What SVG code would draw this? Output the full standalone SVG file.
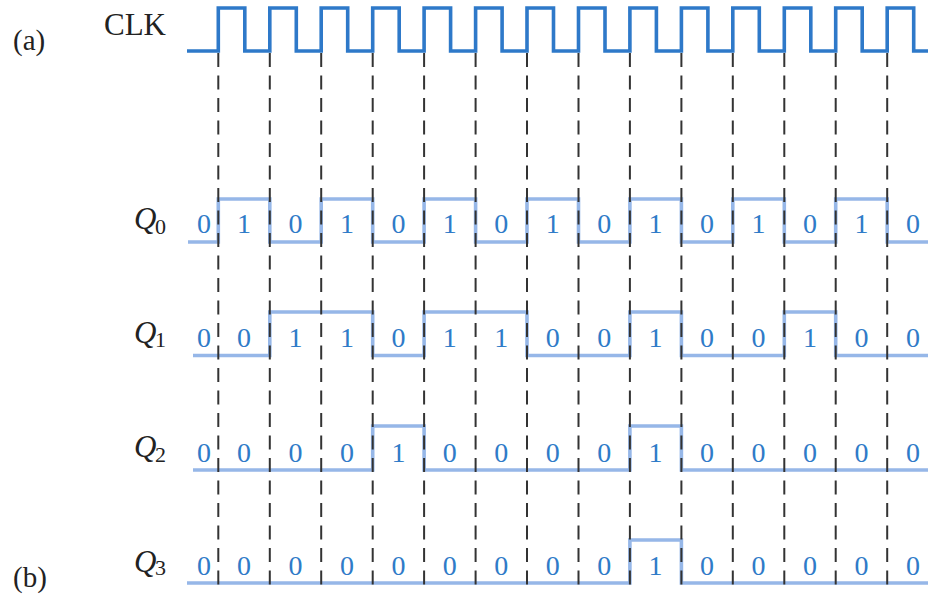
<svg xmlns="http://www.w3.org/2000/svg" width="928" height="596" viewBox="0 0 928 596">
<style>
.lbl{font-family:"Liberation Serif","Times New Roman",serif;fill:#222}
.q{font-family:"Liberation Serif","Times New Roman",serif;font-style:italic;font-size:31px;fill:#222}
.sub{font-family:"Liberation Serif","Times New Roman",serif;font-size:22px;fill:#222}
.d{font-family:"Liberation Serif","Times New Roman",serif;font-size:28px;fill:#2f7bc8;text-anchor:middle}
.clk{fill:none;stroke:#2e79c9;stroke-width:3.6;stroke-linejoin:miter}
.wave{fill:none;stroke:#96b7e8;stroke-width:3.6;stroke-linejoin:miter}
.dash{stroke:#333;stroke-width:2;stroke-dasharray:14 8.5}
</style>
<rect width="928" height="596" fill="#fff"/>
<text class="lbl" x="13" y="50" font-size="29">(a)</text>
<text class="lbl" x="13" y="587" font-size="29">(b)</text>

<g id="clk">
<text class="lbl" x="104" y="35" font-size="31">CLK</text>
<path class="clk" d="M187 51 H218.3 V8 H244.8 V51 H269.8 V8 H296.3 V51 H321.2 V8 H347.7 V51 H372.7 V8 H399.2 V51 H424.1 V8 H450.6 V51 H475.6 V8 H502.1 V51 H527 V8 H553.5 V51 H578.5 V8 H605 V51 H629.9 V8 H656.4 V51 H681.4 V8 H707.9 V51 H732.8 V8 H759.3 V51 H784.3 V8 H810.8 V51 H835.7 V8 H862.2 V51 H887.2 V8 H913.7 V51 H928"/>
</g>

<g id="q0">
<text class="q" x="134" y="229">Q</text><text class="sub" x="155" y="234">0</text>
<path class="wave" d="M188 242 H218.3 V199 H269.8 V242 H321.2 V199 H372.7 V242 H424.1 V199 H475.6 V242 H527 V199 H578.5 V242 H629.9 V199 H681.4 V242 H732.8 V199 H784.3 V242 H835.7 V199 H887.2 V242 H928"/>
<g class="d">
<text x="204" y="233">0</text><text x="244" y="233">1</text><text x="295.5" y="233">0</text><text x="346.9" y="233">1</text><text x="398.4" y="233">0</text><text x="449.8" y="233">1</text><text x="501.3" y="233">0</text><text x="552.7" y="233">1</text><text x="604.2" y="233">0</text><text x="655.6" y="233">1</text><text x="707.1" y="233">0</text><text x="758.5" y="233">1</text><text x="810" y="233">0</text><text x="861.4" y="233">1</text><text x="912.9" y="233">0</text>
</g>
</g>

<g id="q1">
<text class="q" x="134" y="343">Q</text><text class="sub" x="155" y="347">1</text>
<path class="wave" d="M193 355.5 H269.8 V312 H372.7 V355.5 H424.1 V312 H527 V355.5 H629.9 V312 H681.4 V355.5 H784.3 V312 H835.7 V355.5 H928"/>
<g class="d">
<text x="204" y="347">0</text><text x="244" y="347">0</text><text x="295.5" y="347">1</text><text x="346.9" y="347">1</text><text x="398.4" y="347">0</text><text x="449.8" y="347">1</text><text x="501.3" y="347">1</text><text x="552.7" y="347">0</text><text x="604.2" y="347">0</text><text x="655.6" y="347">1</text><text x="707.1" y="347">0</text><text x="758.5" y="347">0</text><text x="810" y="347">1</text><text x="861.4" y="347">0</text><text x="912.9" y="347">0</text>
</g>
</g>

<g id="q2">
<text class="q" x="134" y="457">Q</text><text class="sub" x="155" y="461.5">2</text>
<path class="wave" d="M193 470 H372.7 V426 H424.1 V470 H629.9 V426 H681.4 V470 H928"/>
<g class="d">
<text x="204" y="462">0</text><text x="244" y="462">0</text><text x="295.5" y="462">0</text><text x="346.9" y="462">0</text><text x="398.4" y="462">1</text><text x="449.8" y="462">0</text><text x="501.3" y="462">0</text><text x="552.7" y="462">0</text><text x="604.2" y="462">0</text><text x="655.6" y="462">1</text><text x="707.1" y="462">0</text><text x="758.5" y="462">0</text><text x="810" y="462">0</text><text x="861.4" y="462">0</text><text x="912.9" y="462">0</text>
</g>
</g>

<g id="q3">
<text class="q" x="134" y="572">Q</text><text class="sub" x="155" y="575">3</text>
<path class="wave" d="M187 583 H629.9 V540 H681.4 V583 H928"/>
<g class="d">
<text x="204" y="575">0</text><text x="244" y="575">0</text><text x="295.5" y="575">0</text><text x="346.9" y="575">0</text><text x="398.4" y="575">0</text><text x="449.8" y="575">0</text><text x="501.3" y="575">0</text><text x="552.7" y="575">0</text><text x="604.2" y="575">0</text><text x="655.6" y="575">1</text><text x="707.1" y="575">0</text><text x="758.5" y="575">0</text><text x="810" y="575">0</text><text x="861.4" y="575">0</text><text x="912.9" y="575">0</text>
</g>
</g>

<g id="connectors" class="dash">
<line x1="218.3" y1="53" x2="218.3" y2="585"/>
<line x1="269.8" y1="53" x2="269.8" y2="585"/>
<line x1="321.2" y1="53" x2="321.2" y2="585"/>
<line x1="372.7" y1="53" x2="372.7" y2="585"/>
<line x1="424.1" y1="53" x2="424.1" y2="585"/>
<line x1="475.6" y1="53" x2="475.6" y2="585"/>
<line x1="527" y1="53" x2="527" y2="585"/>
<line x1="578.5" y1="53" x2="578.5" y2="585"/>
<line x1="629.9" y1="53" x2="629.9" y2="585"/>
<line x1="681.4" y1="53" x2="681.4" y2="585"/>
<line x1="732.8" y1="53" x2="732.8" y2="585"/>
<line x1="784.3" y1="53" x2="784.3" y2="585"/>
<line x1="835.7" y1="53" x2="835.7" y2="585"/>
<line x1="887.2" y1="53" x2="887.2" y2="585"/>
</g>
</svg>
